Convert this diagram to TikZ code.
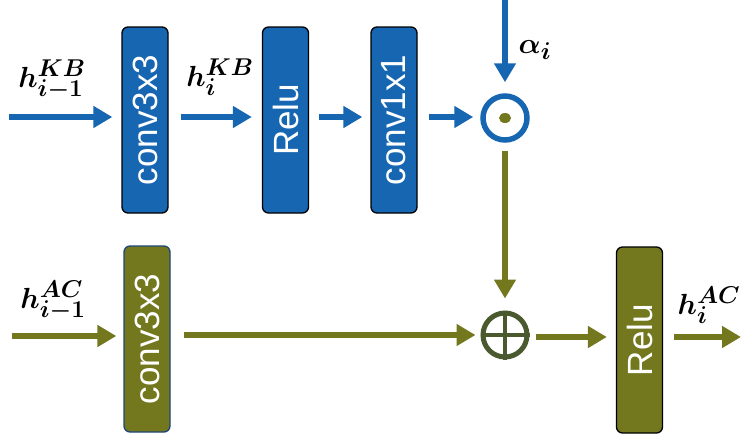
\documentclass[tikz,border=0pt]{standalone}
\usepackage{fontspec}
\newfontfamily\boxfont{Liberation Sans}
\usetikzlibrary{arrows.meta,shapes.geometric}
\definecolor{kbblue}{RGB}{22,102,177}
\definecolor{acolive}{RGB}{115,120,30}
\definecolor{plusgreen}{RGB}{74,89,46}
\definecolor{edgeblue}{RGB}{30,70,120}
\tikzset{
  blockbox/.style={rectangle, rounded corners=6pt, minimum width=46pt, minimum height=186pt,
    line width=1.3pt, inner sep=0pt, text=white,
    font=\boxfont\fontsize{35}{35}\selectfont},
  kbbox/.style={blockbox, fill=kbblue, draw=black},
  acbox/.style={blockbox, fill=acolive, draw=black},
  kbarrow/.style={draw=kbblue, line width=6pt, -{Triangle[width=21pt,length=19pt]}},
  acarrow/.style={draw=acolive, line width=6pt, -{Triangle[width=21pt,length=19pt]}},
  mathlabel/.style={inner sep=0pt, font=\Huge\boldmath, scale=1.17}
}
\begin{document}
\begin{tikzpicture}[x=1pt,y=-1pt]
\useasboundingbox (0,0) rectangle (741,440);
% top row
\node[kbbox] (kbconv) at (145,120) {\rotatebox{90}{conv3x3}};
\node[kbbox] (kbrelu) at (285.5,120) {\rotatebox{90}{Relu}};
\node[kbbox] (kbconvb) at (394,120) {\rotatebox{90}{conv1x1}};
\node[circle, draw=kbblue, line width=5.5pt, minimum size=44pt, inner sep=0pt] (odot) at (505,118) {};
\node[ellipse, fill=acolive, minimum width=12pt, minimum height=10pt, inner sep=0pt] (dot) at (odot.center) {};
% bottom row
\node[acbox, draw=edgeblue] (acconv) at (147,339) {\rotatebox{90}{conv3x3}};
\node[circle, draw=plusgreen, line width=5pt, minimum size=44pt, inner sep=0pt] (oplus) at (505,335) {};
\draw[plusgreen, line width=4.5pt] (oplus.north) -- (oplus.south) (oplus.west) -- (oplus.east);
\node[acbox] (acrelu) at (639.5,340) {\rotatebox{90}{Relu}};
% free ends
\coordinate (in1) at (9,117);
\coordinate (in2) at (12,336);
\coordinate (alphatop) at (505,0);
\coordinate (out) at (741,337);
% top connectors
\draw[kbarrow, shorten >=9pt] (in1) -- (in1 -| kbconv.west);
\draw[kbarrow, shorten <=12pt, shorten >=10pt] (kbconv.east |- in1) -- (kbrelu.west |- in1);
\draw[kbarrow, shorten <=10pt, shorten >=8pt] (kbrelu.east |- in1) -- (kbconvb.west |- in1);
\draw[kbarrow, shorten <=11pt, shorten >=7pt] (kbconvb.east |- in1) -- (in1 -| odot.west);
\draw[kbarrow, shorten >=11pt] (alphatop) -- (odot.north);
% vertical connector
\draw[acarrow, shorten <=8pt, shorten >=12pt] (odot.south) -- (oplus.north);
% bottom connectors
\draw[acarrow, shorten >=7pt] (in2) -- (in2 -| acconv.west);
\draw[acarrow, shorten <=13pt, shorten >=5pt] (acconv.east |- oplus) -- (oplus.west);
\draw[acarrow, shorten <=6pt, shorten >=9pt] (oplus.east |- out) -- (acrelu.west |- out);
\draw[acarrow, shorten <=11pt] (acrelu.east |- out) -- (out);
% labels
\node[mathlabel] (l1) at (52,80) {$h_{i-1}^{KB}$};
\node[mathlabel] (l2) at (220,77) {$h_{i}^{KB}$};
\node[mathlabel] (l3) at (535,50) {$\alpha_i$};
\node[mathlabel] (l4) at (53,301) {$h_{i-1}^{AC}$};
\node[mathlabel] (l5) at (709,305) {$h_{i}^{AC}$};
\end{tikzpicture}
\end{document}
